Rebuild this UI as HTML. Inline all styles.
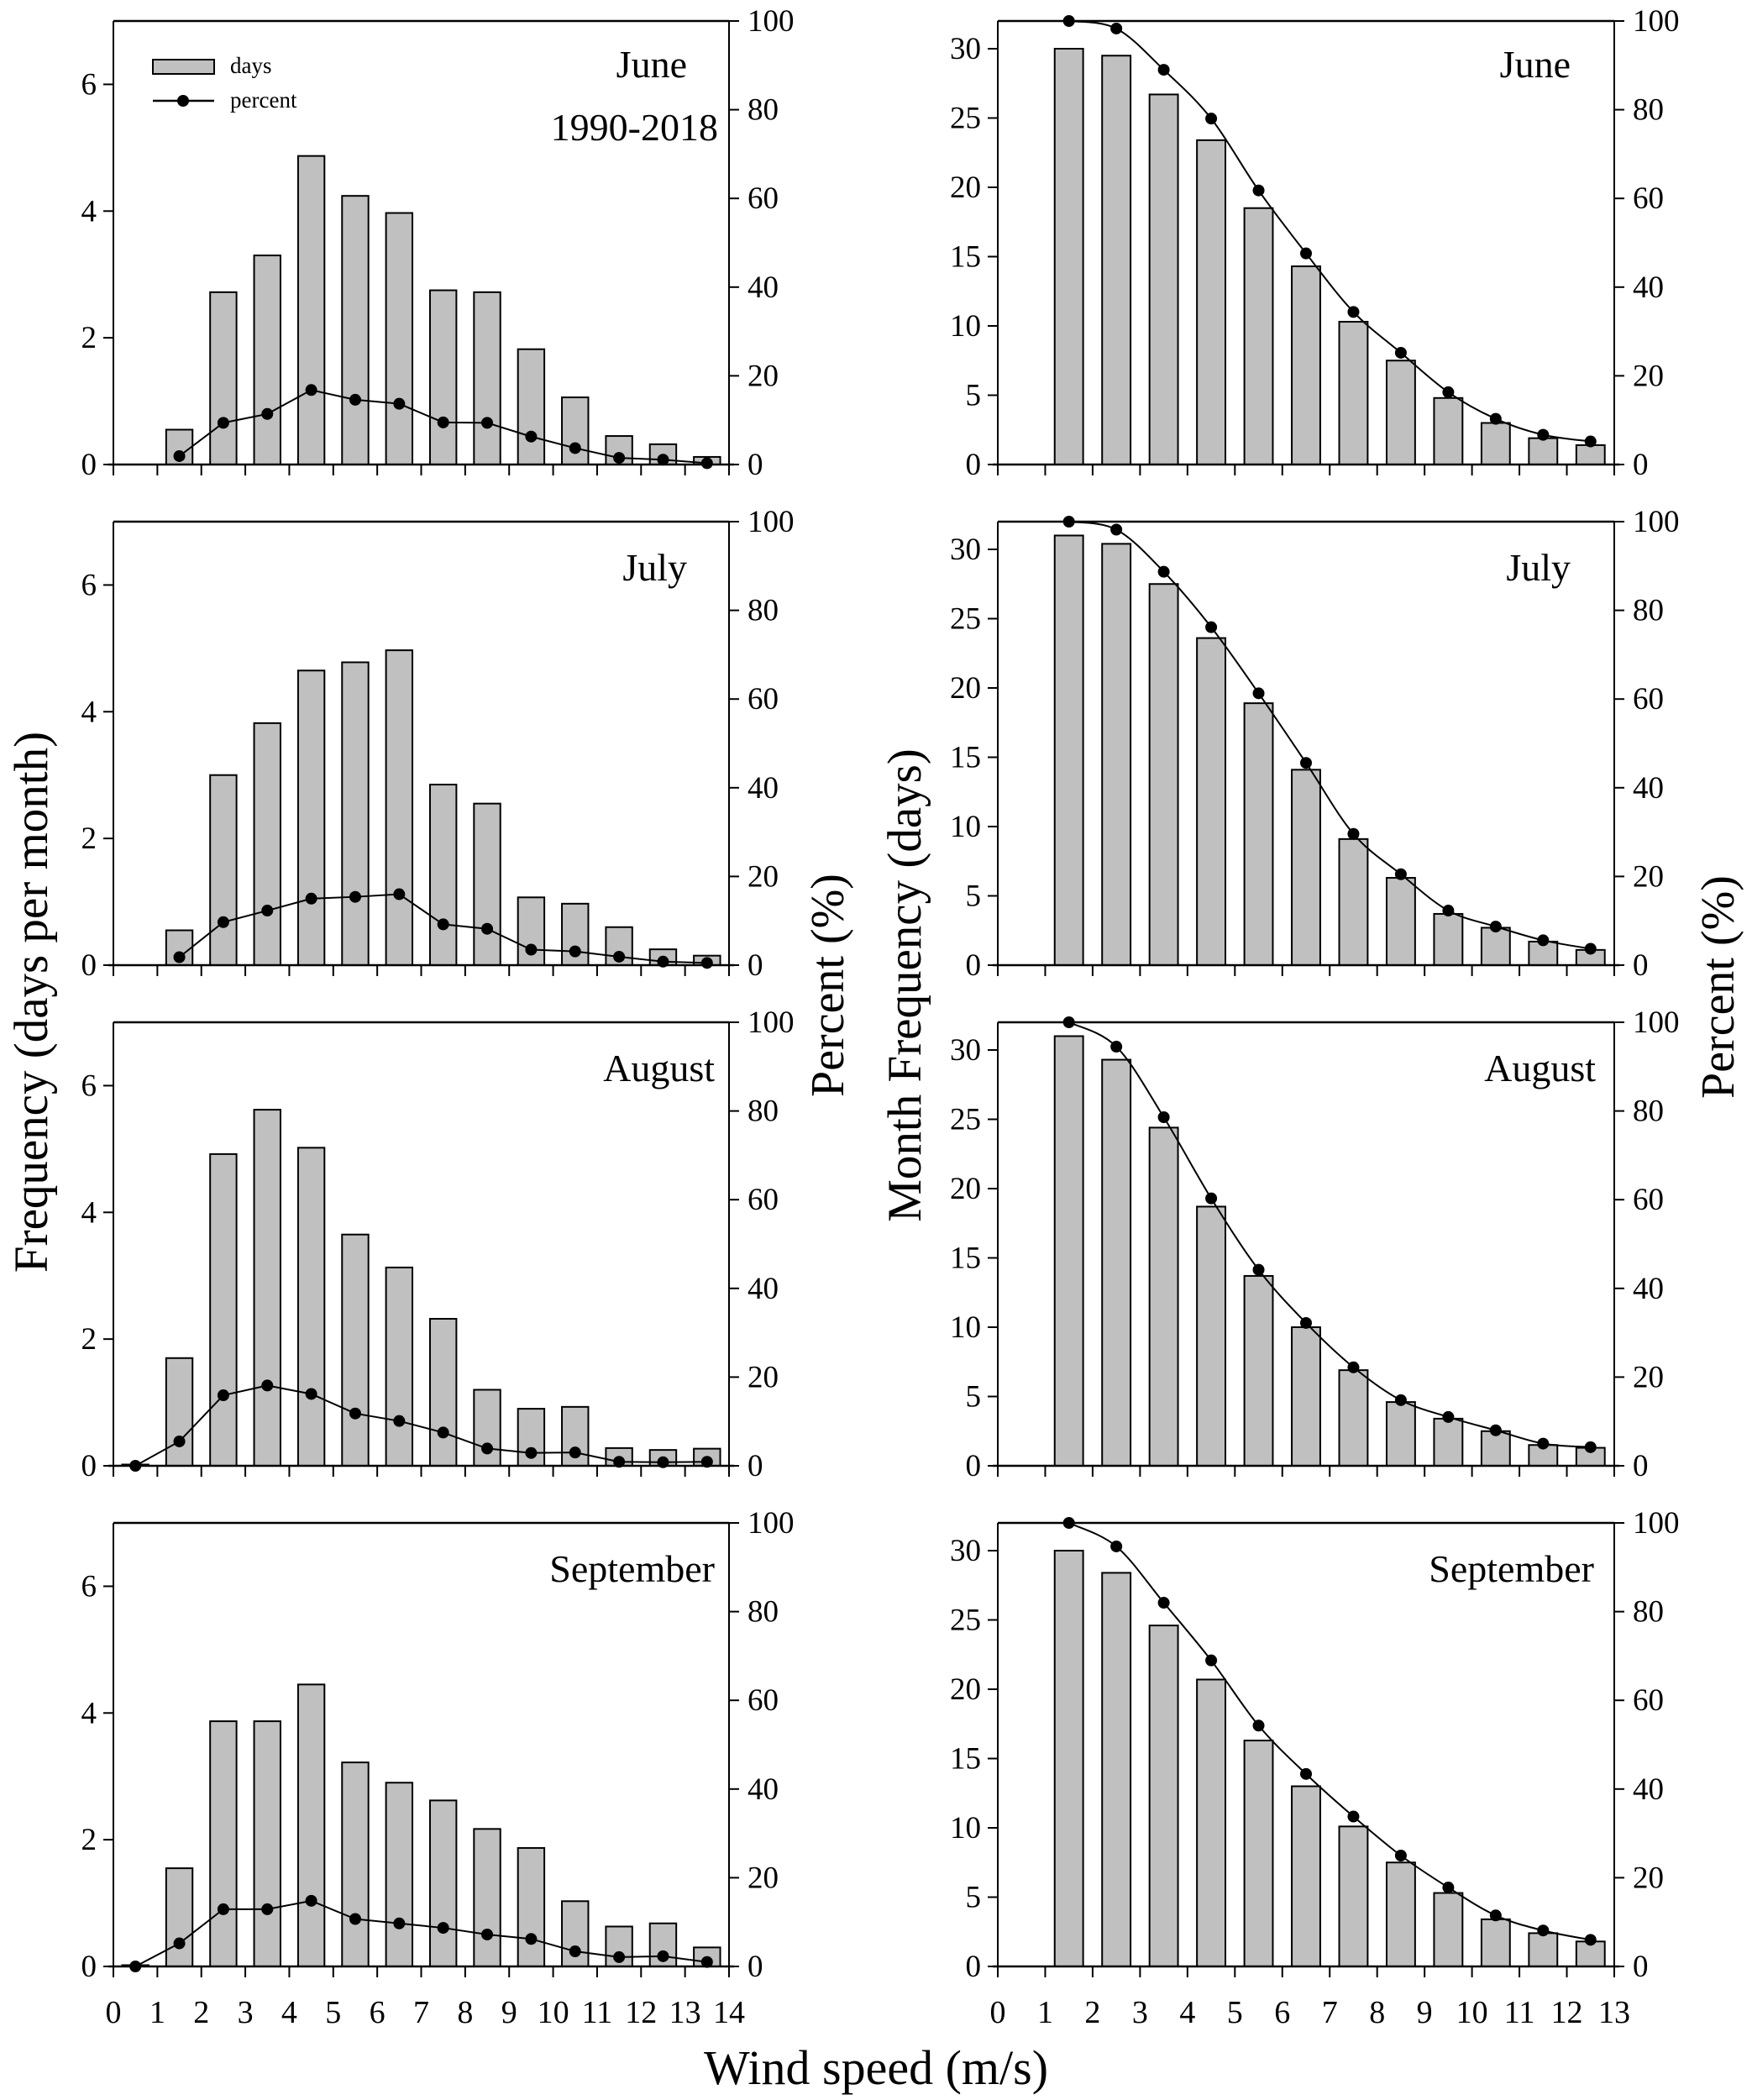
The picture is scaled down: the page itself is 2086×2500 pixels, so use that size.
<!DOCTYPE html>
<html><head><meta charset="utf-8"><style>
html,body{margin:0;padding:0;background:#fff;}
svg{display:block;}
svg text{font-family:"Liberation Serif",serif;}
</style></head><body>
<svg id="fig" width="2086" height="2500" viewBox="0 0 2086 2500" xmlns="http://www.w3.org/2000/svg" font-family="Liberation Serif, serif">
<g id="root"></g>
<g>
<rect x="182" y="71" width="73" height="17" fill="#c0c0c0" stroke="#000" stroke-width="2"/>
<text x="274" y="87" font-size="27">days</text>
<line x1="182" y1="120" x2="255" y2="120" stroke="#000" stroke-width="2.5"/>
<circle cx="218" cy="120" r="7" fill="#000"/>
<text x="274" y="128" font-size="27">percent</text>
</g>
<text x="855" y="167" font-size="46" text-anchor="end">1990-2018</text>
<text transform="translate(56,1193) rotate(-90)" font-size="57" text-anchor="middle">Frequency (days per month)</text>
<text transform="translate(1004,1173) rotate(-90)" font-size="56" text-anchor="middle">Percent (%)</text>
<text transform="translate(1096,1173) rotate(-90)" font-size="57" text-anchor="middle">Month Frequency (days)</text>
<text transform="translate(2064,1175) rotate(-90)" font-size="56" text-anchor="middle">Percent (%)</text>
<text x="1043" y="2481" font-size="58" text-anchor="middle">Wind speed (m/s)</text>
</svg>
<script>
const months = ["June","July","August","September"];
const leftX_jun = [1.5,2.5,3.5,4.5,5.5,6.5,7.5,8.5,9.5,10.5,11.5,12.5,13.5];
const leftDays_jun = [0.55,2.72,3.3,4.87,4.24,3.97,2.75,2.72,1.82,1.06,0.45,0.32,0.12];
const leftPct_jun = [1.9,9.4,11.4,16.8,14.6,13.7,9.5,9.4,6.3,3.7,1.5,1.1,0.3];
const leftX_jul = [1.5,2.5,3.5,4.5,5.5,6.5,7.5,8.5,9.5,10.5,11.5,12.5,13.5];
const leftDays_jul = [0.55,3.0,3.82,4.65,4.78,4.97,2.85,2.55,1.07,0.97,0.6,0.25,0.15];
const leftPct_jul = [1.8,9.7,12.3,15.0,15.4,16.0,9.2,8.2,3.5,3.1,1.9,0.8,0.5];
const leftX_aug = [0.5,1.5,2.5,3.5,4.5,5.5,6.5,7.5,8.5,9.5,10.5,11.5,12.5,13.5];
const leftDays_aug = [0.02,1.7,4.92,5.62,5.02,3.65,3.13,2.32,1.2,0.9,0.93,0.28,0.25,0.27];
const leftPct_aug = [0,5.5,15.9,18.1,16.2,11.8,10.1,7.5,3.9,2.9,3.0,0.9,0.8,0.9];
const leftX_sep = [0.5,1.5,2.5,3.5,4.5,5.5,6.5,7.5,8.5,9.5,10.5,11.5,12.5,13.5];
const leftDays_sep = [0.02,1.55,3.87,3.87,4.45,3.22,2.9,2.62,2.17,1.87,1.03,0.63,0.68,0.3];
const leftPct_sep = [0,5.2,12.9,12.9,14.8,10.7,9.7,8.7,7.2,6.2,3.4,2.1,2.3,1.0];
const rightX = [1.5,2.5,3.5,4.5,5.5,6.5,7.5,8.5,9.5,10.5,11.5,12.5];
const rightDays_jun = [30,29.5,26.7,23.4,18.5,14.3,10.3,7.5,4.8,3.0,1.9,1.4];
const rightPct_jun = [100,98.3,89,78,61.8,47.6,34.4,25.2,16.3,10.3,6.7,5.2];
const rightDays_jul = [31,30.4,27.5,23.6,18.9,14.1,9.1,6.3,3.7,2.7,1.7,1.1];
const rightPct_jul = [100,98.2,88.7,76.2,61.3,45.6,29.6,20.5,12.3,8.7,5.6,3.7];
const rightDays_aug = [31,29.3,24.4,18.7,13.7,10.0,6.9,4.6,3.4,2.5,1.5,1.3];
const rightPct_aug = [100,94.5,78.6,60.3,44.2,32.2,22.2,14.8,11,8,5,4.2];
const rightDays_sep = [30,28.4,24.6,20.7,16.3,13.0,10.1,7.5,5.3,3.4,2.4,1.8];
const rightPct_sep = [100,94.7,82,69,54.3,43.4,33.8,25,17.8,11.5,8.1,6.0];
const leftYTicks = [0,2,4,6];
const rightYTicks = [0,5,10,15,20,25,30];
const pctTicks = [0,20,40,60,80,100];
const leftXTicks = [0,1,2,3,4,5,6,7,8,9,10,11,12,13,14];
const rightXTicks = [0,1,2,3,4,5,6,7,8,9,10,11,12,13];

const NS="http://www.w3.org/2000/svg";
const root=document.getElementById('root');
function mk(tag,attrs,parent){const e=document.createElementNS(NS,tag);for(const k in attrs)e.setAttribute(k,attrs[k]);(parent||root).appendChild(e);return e;}
function txt(s,attrs,parent){const e=mk('text',attrs,parent);e.textContent=s;return e;}

const leftData=[[leftX_jun,leftDays_jun,leftPct_jun],[leftX_jul,leftDays_jul,leftPct_jul],[leftX_aug,leftDays_aug,leftPct_aug],[leftX_sep,leftDays_sep,leftPct_sep]];
const rightData=[[rightX,rightDays_jun,rightPct_jun],[rightX,rightDays_jul,rightPct_jul],[rightX,rightDays_aug,rightPct_aug],[rightX,rightDays_sep,rightPct_sep]];
const leftLabelX=[818,818,851,851];
const rightLabelX=[1870,1870,1900,1898];

function panel(row,side){
  const isL=side==='left';
  const x0=isL?135:1188, x1=isL?868:1922;
  const top=25+596*row, bot=top+528;
  const xmax=isL?14:13, ymax=isL?7:32;
  const sx=v=>x0+(x1-x0)*v/xmax;
  const sy=v=>bot-(bot-top)*v/ymax;
  const sp=v=>bot-(bot-top)*v/100;
  const [xs,days,pct]=isL?leftData[row]:rightData[row];
  const g=mk('g',{});
  
  
  const bw=(x1-x0)/xmax*0.6;
  xs.forEach((x,i)=>{
    const r=mk('rect',{x:sx(x)-bw/2,y:sy(days[i]),width:bw,height:bot-sy(days[i]),fill:'#c0c0c0',stroke:'#000','stroke-width':2},g);
    
    
  });
  let d='';
  const pts=xs.map((x,i)=>[sx(x),sp(pct[i])]);
  if(isL){ d=pts.map((p,i)=>(i?'L':'M')+p[0]+' '+p[1]).join(' '); }
  else {
    d='M'+pts[0][0]+' '+pts[0][1];
    for(let i=0;i<pts.length-1;i++){
      const p0=pts[i-1]||pts[i],p1=pts[i],p2=pts[i+1],p3=pts[i+2]||p2;
      const c1=[p1[0]+(p2[0]-p0[0])/6,p1[1]+(p2[1]-p0[1])/6];
      const c2=[p2[0]-(p3[0]-p1[0])/6,p2[1]-(p3[1]-p1[1])/6];
      d+=' C'+c1[0]+' '+c1[1]+' '+c2[0]+' '+c2[1]+' '+p2[0]+' '+p2[1];
    }
  }
  const ln=mk('path',{d:d,fill:'none',stroke:'#000','stroke-width':2},g);
  
  
  pts.forEach(p=>{
    const c=mk('circle',{cx:p[0],cy:p[1],r:7,fill:'#000'},g);
    
    
  });
  mk('line',{x1:x0,y1:top,x2:x1,y2:top,stroke:'#000','stroke-width':2.5},g);
  mk('line',{x1:x0,y1:top,x2:x0,y2:bot,stroke:'#000','stroke-width':2},g);
  mk('line',{x1:x1,y1:top,x2:x1,y2:bot,stroke:'#000','stroke-width':2},g);
  mk('line',{x1:x0-6,y1:bot,x2:x1+6,y2:bot,stroke:'#000','stroke-width':2.5},g);
  const xt=isL?leftXTicks:rightXTicks;
  xt.forEach(t=>{
    mk('line',{x1:sx(t),y1:bot,x2:sx(t),y2:bot+13,stroke:'#000','stroke-width':2},g);
    if(row===3){const e=txt(String(t),{x:sx(t),y:bot+67,'font-size':38,'text-anchor':'middle','font-family':'Liberation Serif, serif'},g);
      }
  });
  (isL?leftYTicks:rightYTicks).forEach(t=>{
    mk('line',{x1:x0-12,y1:sy(t),x2:x0,y2:sy(t),stroke:'#000','stroke-width':2},g);
    const e=txt(String(t),{x:x0-20,y:sy(t)+12,'font-size':37,'text-anchor':'end','font-family':'Liberation Serif, serif'},g);
    
  });
  pctTicks.forEach(t=>{
    mk('line',{x1:x1,y1:sp(t),x2:x1+12,y2:sp(t),stroke:'#000','stroke-width':2},g);
    const e=txt(String(t),{x:x1+22,y:sp(t)+12,'font-size':37,'text-anchor':'start','font-family':'Liberation Serif, serif'},g);
    
  });
  const lab=txt(months[row],{x:isL?leftLabelX[row]:rightLabelX[row],y:top+(row>0?70:67),'font-size':46,'text-anchor':'end','font-family':'Liberation Serif, serif'},g);
  
  
}
for(let r=0;r<4;r++){panel(r,'left');panel(r,'right');}
</script>
</body></html>
